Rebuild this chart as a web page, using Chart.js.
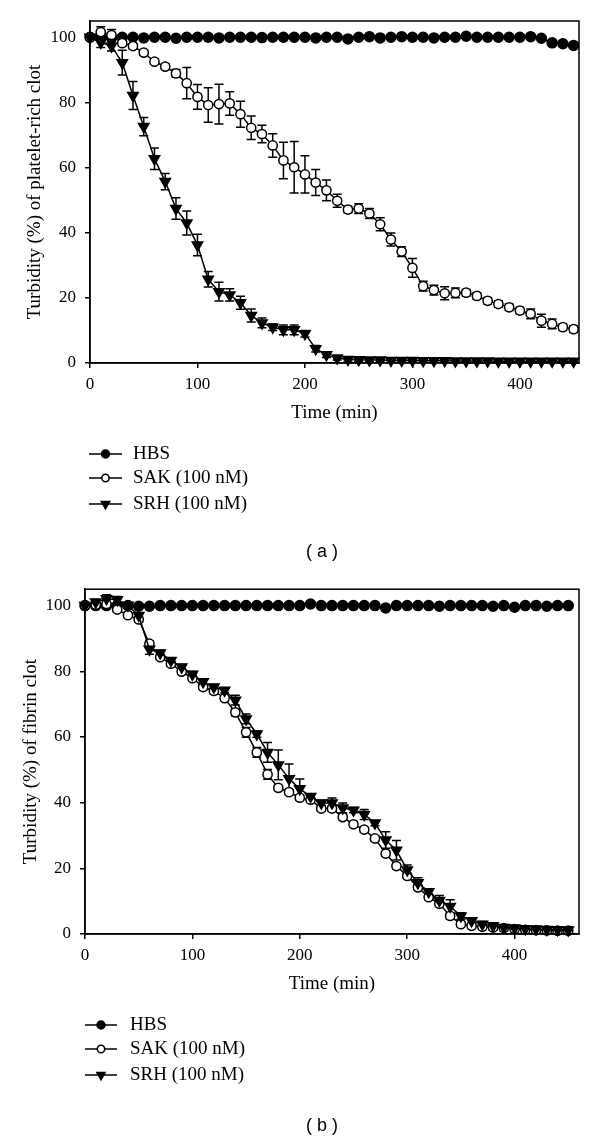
<!DOCTYPE html>
<html>
<head>
<meta charset="utf-8">
<script src="https://cdn.jsdelivr.net/npm/chart.js@4.4.0/dist/chart.umd.min.js"></script>
<style>
  body { margin: 0; background: #fff; width: 600px; height: 1138px; position: relative; overflow: hidden; }
  canvas { position: absolute; left: 0; }
  .panel { position: absolute; left: 222px; width: 200px; text-align: center; line-height: 20px;
           font-family: "Liberation Sans", Arial, sans-serif; font-size: 18px; color: #000; }
</style>
</head>
<body>
<canvas id="chart-a" width="600" height="570" style="top:0"></canvas>
<canvas id="chart-b" width="600" height="568" style="top:570px"></canvas>
<div class="panel" style="top:541px">( a )</div>
<div class="panel" style="top:1115px">( b )</div>
<script>
const times = [0, 10, 20, 30, 40, 50, 60, 70, 80, 90, 100, 110, 120, 130, 140, 150, 160, 170, 180, 190,
  200, 210, 220, 230, 240, 250, 260, 270, 280, 290, 300, 310, 320, 330, 340, 350, 360, 370, 380, 390,
  400, 410, 420, 430, 440, 450];
const seriesNames = ['HBS', 'SAK (100 nM)', 'SRH (100 nM)'];

// (a) platelet-rich clot
const hbsA = [100, 100, 99.8, 100, 100, 99.8, 100, 100, 99.7, 100, 100, 100, 99.8, 100, 100, 100, 99.9, 100, 100, 100,
  100, 99.8, 100, 100, 99.5, 100, 100.2, 99.8, 100, 100.2, 100, 100, 99.8, 100, 100, 100.3, 100, 100, 100, 100,
  100, 100.2, 99.7, 98.3, 98, 97.5];
const hbsAErr = [0.3, 0.3, 0.3, 0.3, 0.3, 0.3, 0.3, 0.3, 0.3, 0.3, 0.3, 0.3, 0.3, 0.3, 0.3, 0.3, 0.3, 0.3, 0.3, 0.3,
  0.3, 0.3, 0.3, 0.3, 0.3, 0.3, 0.3, 0.3, 0.3, 0.3, 0.3, 0.3, 0.3, 0.3, 0.3, 0.3, 0.3, 0.3, 0.3, 0.3,
  0.3, 0.3, 0.3, 0.6, 0.6, 0.6];
const sakA = [100, 101.6, 100.7, 98.2, 97.3, 95.3, 92.5, 91, 88.9, 85.9, 81.7, 79.2, 79.5, 79.7, 76.4, 72.2, 70.3, 66.8, 62.2, 60.1,
  57.9, 55.4, 53, 49.8, 47.1, 47.4, 45.9, 42.6, 37.9, 34.2, 29.2, 23.6, 22.4, 21.4, 21.5, 21.6, 20.6, 19.1, 18.1, 17.1,
  16.1, 15.1, 13.0, 12.0, 11.0, 10.4];
const sakAErr = [0.5, 1.6, 1.7, 0.8, 0.8, 0.8, 0.8, 0.8, 1.2, 4.8, 3.8, 5.3, 6.1, 3.6, 4.0, 3.6, 2.7, 3.6, 5.6, 7.9,
  5.7, 4.0, 3.2, 2.0, 1.0, 1.5, 1.5, 2.0, 2.0, 1.5, 2.9, 1.5, 1.5, 2.0, 1.5, 1.0, 1.0, 1.0, 1.0, 1.0,
  1.0, 1.5, 2.0, 1.5, 1.0, 1.0];
const srhA = [100, 98.4, 97.3, 92.2, 82.1, 72.6, 62.7, 55.7, 47.4, 43.0, 36.2, 25.7, 21.9, 20.9, 18.5, 14.6, 12.3, 11.0, 10.2, 10.2,
  9.0, 4.4, 2.5, 1.5, 1.1, 1.0, 0.9, 0.9, 0.8, 0.8, 0.8, 0.7, 0.7, 0.7, 0.6, 0.6, 0.6, 0.6, 0.5, 0.5,
  0.5, 0.5, 0.5, 0.5, 0.5, 0.5];
const srhAErr = [0.5, 1.5, 1.5, 3.8, 4.3, 2.8, 3.3, 2.5, 3.3, 3.7, 3.3, 2.4, 2.9, 1.9, 2.0, 2.0, 1.5, 1.0, 1.5, 1.5,
  1.0, 1.0, 0.8, 0.6, 0.5, 0.5, 0.5, 0.5, 0.5, 0.5, 0.5, 0.5, 0.5, 0.5, 0.5, 0.5, 0.5, 0.5, 0.5, 0.5,
  0.5, 0.5, 0.5, 0.5, 0.5, 0.5];

// (b) fibrin clot
const hbsB = [100, 100, 100, 100, 100, 99.8, 99.8, 100, 100, 100, 100, 100, 100, 100, 100, 100, 100, 100, 100, 100,
  100, 100.5, 100, 100, 100, 100, 100, 100, 99.3, 100, 100, 100, 100, 99.8, 100, 100, 100, 100, 99.8, 100,
  99.5, 100, 100, 99.8, 100, 100];
const hbsBErr = [0.3, 0.3, 0.3, 0.3, 0.3, 0.3, 0.3, 0.3, 0.3, 0.3, 0.3, 0.3, 0.3, 0.3, 0.3, 0.3, 0.3, 0.3, 0.3, 0.3,
  0.3, 0.3, 0.3, 0.3, 0.3, 0.3, 0.3, 0.3, 0.3, 0.3, 0.3, 0.3, 0.3, 0.3, 0.3, 0.3, 0.3, 0.3, 0.3, 0.3,
  0.3, 0.3, 0.3, 0.3, 0.3, 0.3];
const sakB = [100, 100.3, 100.5, 98.8, 97.1, 95.8, 88.4, 84.3, 82.3, 79.9, 77.9, 75.2, 74.0, 71.8, 67.5, 61.4, 55.3, 48.6, 44.5, 43.2,
  41.5, 40.9, 38.2, 38.2, 35.6, 33.4, 31.8, 29.1, 24.5, 20.7, 17.7, 14.2, 11.2, 9.2, 5.5, 3.0, 2.5, 2.2, 2.0, 1.8,
  1.5, 1.3, 1.2, 1.1, 1.0, 1.0];
const sakBErr = [0.5, 0.8, 0.8, 0.8, 0.8, 0.8, 0.8, 0.8, 0.8, 0.8, 0.8, 0.8, 0.8, 0.8, 1.0, 1.5, 1.5, 1.5, 0.8, 0.8,
  0.8, 0.8, 0.8, 0.8, 0.8, 0.8, 0.8, 0.8, 0.8, 0.8, 0.8, 0.8, 0.8, 0.8, 1.0, 0.8, 0.8, 0.8, 0.8, 0.8,
  0.8, 0.8, 0.8, 0.8, 0.8, 0.8];
const srhB = [100, 101.1, 102.1, 101.8, 100.1, 97, 86.7, 85.6, 83.3, 81.3, 79.1, 76.8, 75.2, 74.2, 71.2, 65.5, 60.9, 55.3, 51.5, 47.3,
  44.2, 41.9, 39.9, 39.9, 38.4, 37.7, 36.4, 33.8, 28.6, 25.5, 19.5, 15.6, 12.9, 10.2, 8.4, 5.5, 4.0, 3.0, 2.5, 2.0,
  1.8, 1.6, 1.5, 1.4, 1.3, 1.2];
const srhBErr = [0.5, 0.8, 1.2, 1.0, 0.8, 0.8, 1.5, 0.8, 0.8, 0.8, 0.8, 0.8, 0.8, 0.8, 1.5, 1.5, 1.0, 3.0, 4.5, 4.5,
  3.0, 0.8, 0.8, 1.5, 1.5, 0.8, 1.5, 0.8, 2.5, 3.0, 1.5, 1.5, 0.8, 1.5, 2.0, 1.0, 0.8, 0.8, 0.8, 0.8,
  0.8, 0.8, 0.8, 0.8, 0.8, 0.8];

const serif = '"Liberation Serif", "Times New Roman", serif';

const markerStyles = [
  { pointStyle: 'circle', radius: 5, backgroundColor: '#000', rotation: 0 },
  { pointStyle: 'circle', radius: 4.6, backgroundColor: '#fff', rotation: 0 },
  { pointStyle: 'triangle', radius: 6, backgroundColor: '#000', rotation: 180 }
];

function pairs(values) {
  return times.map((t, i) => ({ x: t, y: values[i] }));
}

const errorBars = {
  id: 'errorBars',
  beforeDatasetsDraw(chart) {
    const ctx = chart.ctx;
    const y = chart.scales.y;
    ctx.save();
    ctx.strokeStyle = '#000';
    ctx.lineWidth = 1.5;
    chart.data.datasets.forEach((ds, di) => {
      const meta = chart.getDatasetMeta(di);
      meta.data.forEach((pt, i) => {
        const v = ds.data[i].y;
        const e = ds.errors[i];
        const top = y.getPixelForValue(v + e);
        const bot = y.getPixelForValue(v - e);
        ctx.beginPath();
        ctx.moveTo(pt.x, top); ctx.lineTo(pt.x, bot);
        ctx.moveTo(pt.x - 4.5, top); ctx.lineTo(pt.x + 4.5, top);
        ctx.moveTo(pt.x - 4.5, bot); ctx.lineTo(pt.x + 4.5, bot);
        ctx.stroke();
      });
    });
    ctx.restore();
  }
};

const frame = {
  id: 'frame',
  afterDraw(chart) {
    const { ctx, chartArea: a } = chart;
    ctx.save();
    ctx.strokeStyle = '#000';
    ctx.lineWidth = 1.5;
    ctx.strokeRect(a.left, a.top, a.right - a.left, a.bottom - a.top);
    ctx.restore();
  }
};

const lineLegend = {
  id: 'lineLegend',
  afterDraw(chart, args, opts) {
    const ctx = chart.ctx;
    ctx.save();
    ctx.font = '19px ' + serif;
    ctx.textBaseline = 'middle';
    ctx.fillStyle = '#000';
    seriesNames.forEach((name, i) => {
      const yy = opts.rows[i];
      ctx.strokeStyle = '#000';
      ctx.lineWidth = 1.5;
      ctx.beginPath();
      ctx.moveTo(opts.x1, yy); ctx.lineTo(opts.x2, yy);
      ctx.stroke();
      const m = markerStyles[i];
      ctx.fillStyle = m.backgroundColor;
      Chart.helpers.drawPoint(ctx, {
        pointStyle: m.pointStyle, radius: m.radius * 0.8, rotation: m.rotation, borderWidth: 1.5
      }, (opts.x1 + opts.x2) / 2, yy);
      ctx.fillStyle = '#000';
      ctx.fillText(name, opts.textX, yy);
    });
    ctx.restore();
  }
};

function makeChart(id, sets, opt) {
  const datasets = sets.map((s, i) => ({
    label: seriesNames[i],
    data: pairs(s.values),
    errors: s.errors,
    borderColor: '#000',
    borderWidth: 1.5,
    pointStyle: markerStyles[i].pointStyle,
    pointRadius: markerStyles[i].radius,
    pointRotation: markerStyles[i].rotation,
    pointBackgroundColor: markerStyles[i].backgroundColor,
    pointBorderColor: '#000',
    pointBorderWidth: 1.5,
    tension: 0,
    clip: false,
    order: 3 - i
  }));
  return new Chart(document.getElementById(id), {
    type: 'line',
    data: { datasets },
    options: {
      responsive: false,
      animation: false,
      devicePixelRatio: 1,
      layout: { padding: opt.padding },
      plugins: {
        legend: { display: false },
        tooltip: { enabled: false },
        lineLegend: opt.legend
      },
      scales: {
        x: {
          type: 'linear', min: 0, max: opt.xMax,
          afterFit: s => { s.height = 60; },
          border: { color: '#000', width: 1.5 },
          grid: { drawOnChartArea: false, drawTicks: true, tickLength: 5, color: '#000', lineWidth: 1.5 },
          ticks: { stepSize: 100, includeBounds: false, color: '#000', padding: 6, maxRotation: 0,
                   font: { family: serif, size: 17 } },
          title: { display: true, text: 'Time (min)', color: '#000', padding: { top: 0, bottom: 0.5 },
                   font: { family: serif, size: 19, lineHeight: 1 } }
        },
        y: {
          min: 0, max: 105,
          afterFit: s => { s.width = opt.yWidth; },
          border: { color: '#000', width: 1.5 },
          grid: { drawOnChartArea: false, drawTicks: true, tickLength: 5, color: '#000', lineWidth: 1.5 },
          ticks: { stepSize: 20, includeBounds: false, color: '#000', padding: 9,
                   font: { family: serif, size: 17 } },
          title: { display: true, text: opt.yTitle, color: '#000', padding: { top: opt.yTitlePad, bottom: 0 },
                   font: { family: serif, size: 19, lineHeight: 1 } }
        }
      }
    },
    plugins: [errorBars, frame, lineLegend]
  });
}

makeChart('chart-a', [
  { values: hbsA, errors: hbsAErr },
  { values: sakA, errors: sakAErr },
  { values: srhA, errors: srhAErr }
], {
  xMax: 455, yWidth: 90, yTitlePad: 26,
  yTitle: 'Turbidity (%) of platelet-rich clot',
  padding: { left: 0, right: 21, top: 21, bottom: 147 },
  legend: { x1: 89, x2: 122, textX: 133, rows: [454, 478, 504] }
});

makeChart('chart-b', [
  { values: hbsB, errors: hbsBErr },
  { values: sakB, errors: sakBErr },
  { values: srhB, errors: srhBErr }
], {
  xMax: 460, yWidth: 85, yTitlePad: 22,
  yTitle: 'Turbidity (%) of fibrin clot',
  padding: { left: 0, right: 21, top: 18, bottom: 144 },
  legend: { x1: 85, x2: 117, textX: 130, rows: [455, 479, 505] }
});
</script>
</body>
</html>
